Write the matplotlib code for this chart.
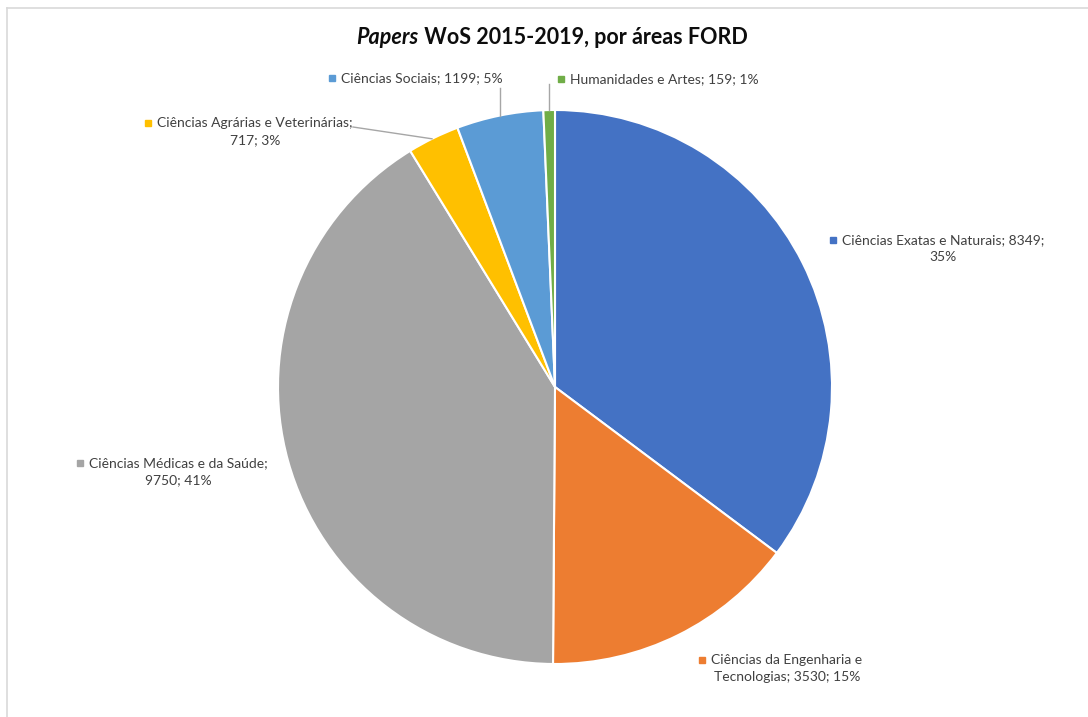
import matplotlib
matplotlib.use("Agg")
import matplotlib.pyplot as plt
import numpy as np

# ---- data ----
categories = ["Ciências Exatas e Naturais", "Ciências da Engenharia e Tecnologias",
              "Ciências Médicas e da Saúde", "Ciências Agrárias e Veterinárias",
              "Ciências Sociais", "Humanidades e Artes"]
values = [8349, 3530, 9750, 717, 1199, 159]
percents = ["35%", "15%", "41%", "3%", "5%", "1%"]
colors = ["#4472C4", "#ED7D31", "#A5A5A5", "#FFC000", "#5B9BD5", "#70AD47"]

W, H = 1088, 717
fig = plt.figure(figsize=(W / 100, H / 100), dpi=100)
ax = fig.add_axes([0, 0, 1, 1])

FONT = "Lato"
TXT = "#404040"

cx, cy, R = 555, 387, 277
ax.pie(values, colors=colors, startangle=90, counterclock=False,
       center=(cx, H - cy), radius=R, frame=True,
       wedgeprops=dict(edgecolor="white", linewidth=1.5))
ax.set_xlim(0, W)
ax.set_ylim(0, H)
ax.set_aspect("equal")
ax.axis("off")

# border
fig.add_artist(plt.Line2D([7 / W, 1], [1 - 8 / H, 1 - 8 / H], color="#D9D9D9", lw=1.2))
fig.add_artist(plt.Line2D([7 / W, 7 / W], [0, 1 - 8 / H], color="#D9D9D9", lw=1.2))

# title
fig.canvas.draw()
r = fig.canvas.get_renderer()
t1 = ax.text(0, H - 37, "Papers", fontsize=15.5, fontweight="bold", fontstyle="italic",
             family=FONT, color="#0D0D0D", va="center", ha="left")
t2 = ax.text(0, H - 37, " WoS 2015-2019, por áreas FORD", fontsize=15.5, fontweight="bold",
             family=FONT, color="#0D0D0D", va="center", ha="left")
w1 = t1.get_window_extent(r).width
w2 = t2.get_window_extent(r).width
x0 = 552 - (w1 + w2) / 2
t1.set_x(x0)
t2.set_x(x0 + w1)

# labels: (center x, first line y, lines)
label_layout = [
    (943, 240, [f"{categories[0]}; {values[0]};", percents[0]]),
    (787, 660, ["Ciências da Engenharia e", f"Tecnologias; {values[1]}; {percents[1]}"]),
    (178, 463, [f"{categories[2]};", f"{values[2]}; {percents[2]}"]),
    (255, 123, [f"{categories[3]};", f"{values[3]}; {percents[3]}"]),
    (422, 78, [f"{categories[4]}; {values[4]}; {percents[4]}"]),
    (664, 79, [f"{categories[5]}; {values[5]}; {percents[5]}"]),
]
LS = 17
for i, (x, y, lines) in enumerate(label_layout):
    first = None
    for k, line in enumerate(lines):
        t = ax.text(x, H - (y + k * LS), line, fontsize=10, family=FONT, color=TXT,
                    ha="center", va="center")
        if k == 0:
            first = t
    bb = first.get_window_extent(r)
    mx = bb.x0 - 9
    ax.plot([mx], [H - y], marker="s", ms=4.5, color=colors[i], mec=colors[i])

# leader lines (x positions on the pie edge)
def edge_y(x):
    return cy - np.sqrt(R ** 2 - (x - cx) ** 2)

lc = "#A6A6A6"
ax.plot([353, 432], [H - 127, H - edge_y(432)], color=lc, lw=1)
ax.plot([500, 500], [H - 88, H - edge_y(500)], color=lc, lw=1)
ax.plot([549, 549], [H - 84, H - edge_y(549)], color=lc, lw=1)

fig.savefig("out.png", dpi=100, facecolor="white")
